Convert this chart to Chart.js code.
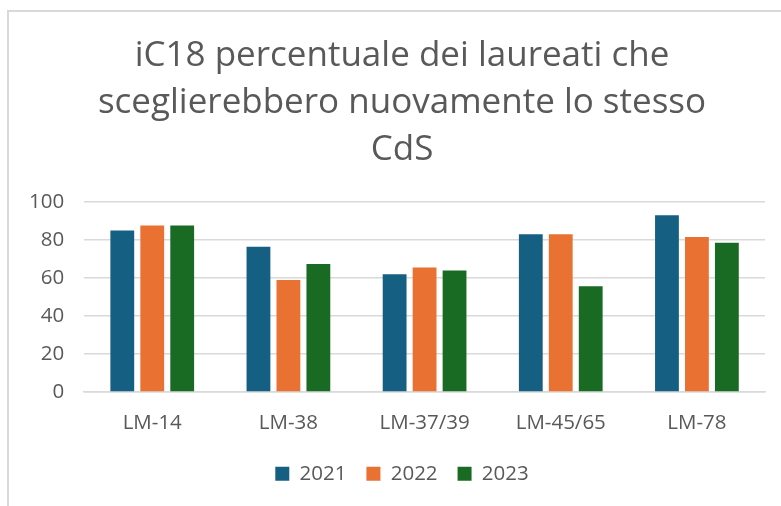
<!DOCTYPE html>
<html>
<head>
<meta charset="utf-8">
<script src="https://cdn.jsdelivr.net/npm/chart.js@4.4.1/dist/chart.umd.min.js"></script>
<style>
  html, body { margin: 0; padding: 0; background: #fff; overflow: hidden; }
  #wrap {
    position: absolute; left: 7px; top: 10px;
    width: 786px; height: 496px;
    border-left: 2px solid #d9d9d9; border-top: 2px solid #d9d9d9;
  }
</style>
</head>
<body>
<div id="wrap"><canvas id="barChart"></canvas></div>
<script>
// categorie e valori
const categories = ['LM-14', 'LM-38', 'LM-37/39', 'LM-45/65', 'LM-78'];
const years = ['2021', '2022', '2023'];
const values2021 = [85, 76.5, 62, 83, 93];
const values2022 = [87.7, 59, 65.5, 83, 81.6];
const values2023 = [87.7, 67.4, 64, 55.6, 78.6];
const yTicks = [0, 20, 40, 60, 80, 100];

const colors = ['#156082', '#E97132', '#196B24'];
const grey = '#595959';
const fontFamily = "'Open Sans', sans-serif";

// centra titolo e legenda sull'intero riquadro (come in Excel)
const shiftBoxes = {
    id: 'shiftBoxes',
    afterLayout(chart) {
        [chart.titleBlock, chart.legend].forEach(box => {
            if (box) { box.left += 15; box.right += 15; }
        });
    }
};

document.addEventListener('DOMContentLoaded', () => {
    const ctx = document.getElementById('barChart').getContext('2d');
    new Chart(ctx, {
        type: 'bar',
        data: {
            labels: categories,
            datasets: [values2021, values2022, values2023].map((vals, i) => ({
                label: years[i],
                data: vals,
                backgroundColor: colors[i],
                categoryPercentage: 0.66,
                barPercentage: 0.795,
            }))
        },
        plugins: [shiftBoxes],
        options: {
            responsive: true,
            maintainAspectRatio: false,
            animation: false,
            layout: { padding: { left: 0, right: 30, top: 0, bottom: 14 } },
            plugins: {
                title: {
                    display: true,
                    text: ['iC18 percentuale dei laureati che', 'sceglierebbero nuovamente lo stesso', 'CdS'],
                    color: grey,
                    font: { family: fontFamily, size: 35, weight: 'normal', lineHeight: 1.334 },
                    padding: { top: 21, bottom: 29 }
                },
                legend: {
                    position: 'bottom',
                    labels: {
                        color: grey,
                        boxWidth: 14,
                        boxHeight: 14,
                        padding: 20,
                        font: { family: fontFamily, size: 20.5 }
                    }
                },
                tooltip: { enabled: false }
            },
            scales: {
                x: {
                    grid: { display: false, drawTicks: false },
                    border: { display: true, color: '#d9d9d9', width: 1.5 },
                    ticks: { color: grey, padding: 19, font: { family: fontFamily, size: 20.5 } },
                    afterFit: axis => { axis.height -= 11; }
                },
                y: {
                    min: 0,
                    max: 100,
                    afterBuildTicks: axis => { axis.ticks = yTicks.map(v => ({ value: v })); },
                    grid: { color: '#d9d9d9', lineWidth: 1.5, drawTicks: false },
                    border: { display: false },
                    ticks: { color: grey, padding: 20, font: { family: fontFamily, size: 20.5 } }
                }
            }
        }
    });
});
</script>
</body>
</html>
